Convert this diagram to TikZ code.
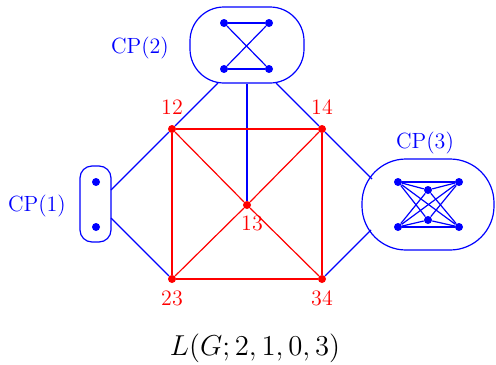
\documentclass[tikz,border=0pt]{standalone}
\usepackage{tikz}
\usetikzlibrary{positioning}

\begin{document}
\begin{tikzpicture}[x=0.5pt, y=-0.5pt,
    font=\fontsize{11}{13}\selectfont,
    rdot/.style={circle, fill=red, inner sep=0pt, minimum size=4pt},
    bdot/.style={circle, fill=blue, inner sep=0pt, minimum size=4pt},
    cpbox/.style={rectangle, draw=blue, line width=0.6pt, inner sep=0pt},
    redge/.style={red, line width=0.6pt},
    bedge/.style={blue, line width=0.6pt},
    rlab/.style={red, label distance=1.5pt},
    cplab/.style={blue}]
\useasboundingbox (0,0) rectangle (496,364);

% Clique boxes
\node (cp1) [cpbox, minimum width=15.5pt, minimum height=38pt, rounded corners=6pt] at (95.5,204) {};
\node (cp2) [cpbox, minimum width=57pt, minimum height=38pt, rounded corners=17pt] at (247,45) {};
\node (cp3) [cpbox, minimum width=66pt, minimum height=45.5pt, rounded corners=22pt] at (428,204.5) {};
\node (lcp1) [cplab] at (37,206) {CP(1)};
\node (lcp2) [cplab] at (140,48) {CP(2)};
\node (lcp3) [cplab] at (425,143) {CP(3)};

% Free ends on the boxes
\coordinate (e2a) at (218,83);
\coordinate (e2b) at (276,83);
\coordinate (e1a) at (111,190);
\coordinate (e1b) at (111,218);
\coordinate (e3a) at (372,179);
\coordinate (e3b) at (371,230);

% Line graph vertices
\node (v12) [rdot, label={[rlab]above:12}] at (172,129) {};
\node (v14) [rdot, label={[rlab]above:14}] at (322,129) {};
\node (v13) [rdot, label={[rlab, label distance=-0.5pt, xshift=2.5pt]below:13}] at (247,205) {};
\node (v23) [rdot, label={[rlab, label distance=0pt]below:23}] at (172,279) {};
\node (v34) [rdot, label={[rlab, label distance=0pt]below:34}] at (322,279) {};

% Vertices inside the cliques
\node (b1) [bdot] at (96,182) {};
\node (b2) [bdot] at (96,227) {};
\node (a1) [bdot] at (224,23) {};
\node (a2) [bdot] at (269,23) {};
\node (a3) [bdot] at (224,69) {};
\node (a4) [bdot] at (269,69) {};
\node (c1) [bdot] at (398,182) {};
\node (c2) [bdot] at (459,182) {};
\node (c3) [bdot] at (428,190) {};
\node (c4) [bdot] at (428,220) {};
\node (c5) [bdot] at (398,227) {};
\node (c6) [bdot] at (459,227) {};

% Blue connectors
\draw [bedge] (v12) -- (e2a);
\draw [bedge] (v14) -- (e2b);
\draw [bedge] (v13) -- (cp2.south);
\draw [bedge] (v12) -- (e1a);
\draw [bedge] (v23) -- (e1b);
\draw [bedge] (v14) -- (e3a);
\draw [bedge] (v34) -- (e3b);
\draw [bedge] (a1) -- (a2);
\draw [bedge] (a3) -- (a4);
\draw [bedge] (a1) -- (a4);
\draw [bedge] (a2) -- (a3);
\foreach \s/\t in {c1/c2, c1/c3, c1/c4, c1/c6, c2/c3, c2/c4, c2/c5,
                   c3/c5, c3/c6, c4/c5, c4/c6, c5/c6}
  \draw [bedge] (\s) -- (\t);

% Red edges
\draw [redge] (v12) -- (v14) -- (v34) -- (v23) -- (v12);
\foreach \s in {v12, v14, v23, v34}
  \draw [redge] (\s) -- (v13);

% Caption
\node (cap) at (255,348) {\fontsize{15}{18}\selectfont $L(G;2,1,0,3)$};
\end{tikzpicture}
\end{document}
